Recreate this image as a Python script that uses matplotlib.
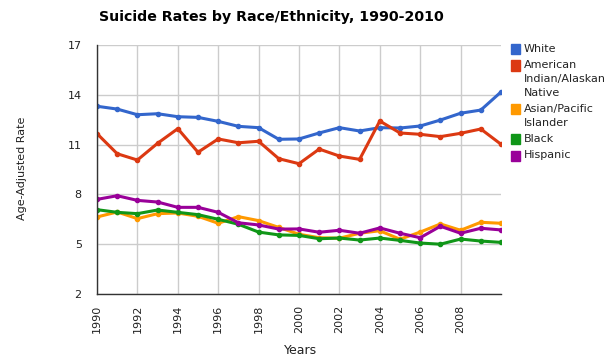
import matplotlib
matplotlib.use("Agg")
import matplotlib.pyplot as plt
from matplotlib.patches import Rectangle

years = list(range(1990, 2011))
white = [13.31, 13.14, 12.80, 12.86, 12.68, 12.64, 12.40, 12.10, 12.02, 11.32, 11.34,
         11.70, 12.02, 11.82, 12.02, 12.00, 12.12, 12.48, 12.89, 13.08, 14.17]
aian = [11.66, 10.45, 10.07, 11.08, 11.96, 10.54, 11.34, 11.11, 11.20, 10.15, 9.85,
        10.73, 10.31, 10.11, 12.42, 11.70, 11.62, 11.48, 11.68, 11.94, 11.02]
asian = [6.64, 6.94, 6.54, 6.84, 6.88, 6.68, 6.26, 6.66, 6.42, 6.01, 5.60,
         5.39, 5.36, 5.66, 5.81, 5.30, 5.73, 6.22, 5.84, 6.32, 6.26]
black = [7.08, 6.92, 6.84, 7.06, 6.92, 6.78, 6.50, 6.20, 5.73, 5.56, 5.53,
         5.33, 5.37, 5.25, 5.37, 5.23, 5.07, 5.00, 5.31, 5.19, 5.11]
hispanic = [7.70, 7.92, 7.64, 7.54, 7.22, 7.22, 6.92, 6.29, 6.16, 5.91, 5.92,
            5.72, 5.84, 5.66, 5.98, 5.66, 5.39, 6.08, 5.66, 5.96, 5.86]

series_names = ["White", "American\nIndian/Alaskan\nNative", "Asian/Pacific\nIslander",
                "Black", "Hispanic"]
series_values = [white, aian, asian, black, hispanic]
colors = ["#3366CC", "#DC3912", "#FF9900", "#109618", "#990099"]
x_ticks = list(range(1990, 2010, 2))
y_ticks = [2, 5, 8, 11, 14, 17]

fig = plt.figure(figsize=(6.13, 3.64), dpi=100)
ax = fig.add_axes([97/613, 1-294/364, (501-97)/613, (294-45)/364])

for vals, c in zip(series_values, colors):
    ax.plot(years, vals, color=c, lw=2.2, marker="o", ms=3, zorder=3,
            solid_joinstyle="round")

ax.set_xlim(1990, 2010)
ax.set_ylim(2, 17)
ax.set_xticks(x_ticks)
ax.set_xticklabels([str(t) for t in x_ticks], rotation=90, fontsize=8, color="#222222")
ax.set_yticks(y_ticks)
ax.set_yticklabels([str(t) for t in y_ticks], fontsize=8, color="#222222")
ax.tick_params(axis="x", length=0, pad=8)
ax.tick_params(axis="y", length=0, pad=11)
ax.grid(True, color="#CCCCCC", lw=1)
ax.set_axisbelow(True)
for s in ["top", "right"]:
    ax.spines[s].set_visible(False)
for s in ["left", "bottom"]:
    ax.spines[s].set_color("#333333")
    ax.spines[s].set_linewidth(1)
    ax.spines[s].set_zorder(4)

ax.set_xlabel("Years", fontsize=9, color="#222222", va="center")
ax.xaxis.set_label_coords((301-97)/404, (294-351)/249)
ax.set_ylabel("Age-Adjusted Rate", fontsize=8, color="#222222", va="center")
ax.yaxis.set_label_coords((22-97)/404, (294-168)/249)

fig.text(271/613, 1-17/364, "Suicide Rates by Race/Ethnicity, 1990-2010",
         fontsize=10.2, fontweight="bold", ha="center", va="center", color="black")

# legend
line_h = 13.5
y = 49
for name, c in zip(series_names, colors):
    fig.patches.append(Rectangle((511/613, 1-(y+5)/364), 9/613, 10/364,
                                 transform=fig.transFigure, color=c, figure=fig))
    lines = name.split("\n")
    for i, ln in enumerate(lines):
        fig.text(524/613, 1-(y + i*line_h)/364, ln, fontsize=8, va="center",
                 ha="left", color="#222222")
    y += line_h * len(lines) + 3

fig.savefig("out.png", dpi=100)
